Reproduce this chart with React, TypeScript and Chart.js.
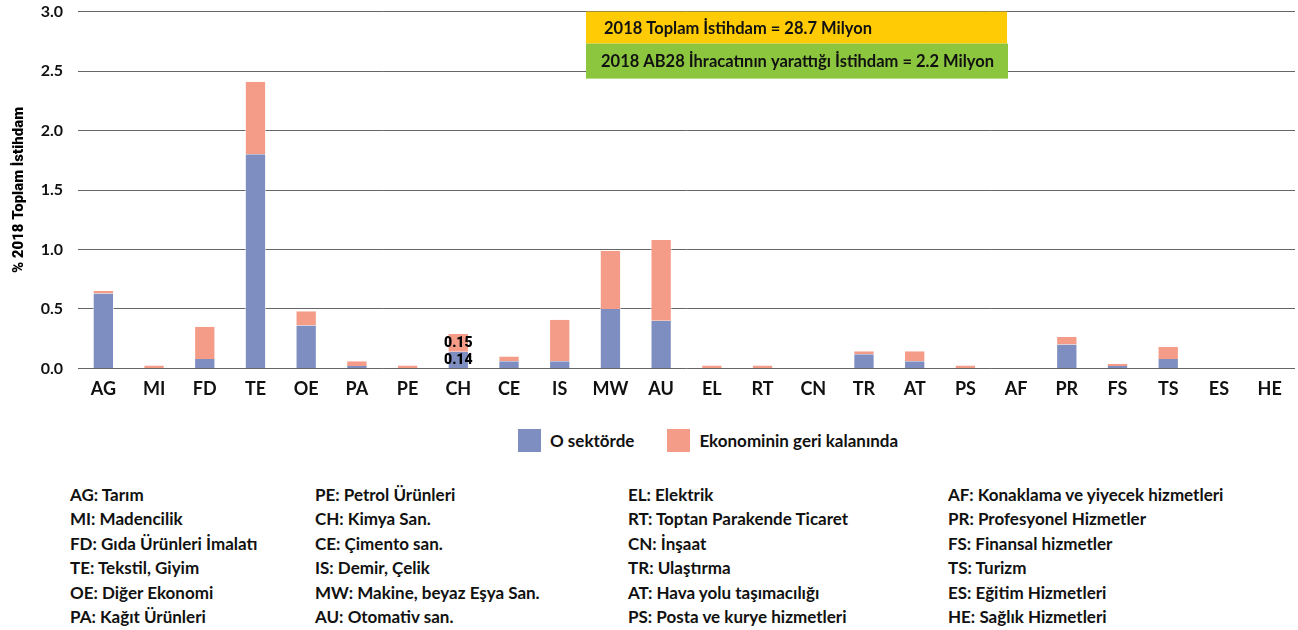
import React, { useEffect, useRef } from "react";
import { Chart, registerables } from "chart.js";

Chart.register(...registerables);

const categories = ["AG","MI","FD","TE","OE","PA","PE","CH","CE","IS","MW","AU","EL","RT","CN","TR","AT","PS","AF","PR","FS","TS","ES","HE"];
const inSector = [0.63,0,0.08,1.8,0.36,0.02,0,0.14,0.06,0.06,0.5,0.4,0,0,0,0.12,0.06,0,0,0.2,0.02,0.08,0,0];
const restOfEconomy = [0.02,0.025,0.27,0.61,0.12,0.04,0.025,0.15,0.04,0.35,0.49,0.68,0.025,0.025,0,0.025,0.085,0.025,0,0.065,0.02,0.1,0,0];
const seriesNames = ["O sektörde", "Ekonominin geri kalanında"];
const seriesColors = ["#7F8EC1", "#F59C88"];
const yTitle = "% 2018 Toplam İstihdam";
const noteTotal = "2018 Toplam İstihdam = 28.7 Milyon";
const noteExport = "2018 AB28 İhracatının yarattığı İstihdam = 2.2 Milyon";
const labelledCategory = "CH";

const defCol1 = ["AG: Tarım","MI: Madencilik","FD: Gıda Ürünleri İmalatı","TE: Tekstil, Giyim","OE: Diğer Ekonomi","PA: Kağıt Ürünleri"];
const defCol2 = ["PE: Petrol Ürünleri","CH: Kimya San.","CE: Çimento san.","IS: Demir, Çelik","MW: Makine, beyaz Eşya San.","AU: Otomativ san."];
const defCol3 = ["EL: Elektrik","RT: Toptan Parakende Ticaret","CN: İnşaat","TR: Ulaştırma","AT: Hava yolu taşımacılığı","PS: Posta ve kurye hizmetleri"];
const defCol4 = ["AF: Konaklama ve yiyecek hizmetleri","PR: Profesyonel Hizmetler","FS: Finansal hizmetler","TS: Turizm","ES: Eğitim Hizmetleri","HE: Sağlık Hizmetleri"];

const FONT = "Lato, 'Open Sans', sans-serif";
const HEAVY = "Roboto, Lato, sans-serif";

const overlayPlugin = {
  id: "overlay",
  afterDatasetsDraw(chart: any) {
    const ctx = chart.ctx;
    const y = chart.scales.y;
    const top = y.getPixelForValue(3);
    ctx.save();
    ctx.fillStyle = "#FFCB05";
    ctx.fillRect(586, top, 421, 32);
    ctx.fillStyle = "#8CC63F";
    ctx.fillRect(586, top + 32, 422, 35);
    ctx.fillStyle = "#111";
    ctx.font = `bold 16.5px ${FONT}`;
    ctx.textBaseline = "middle";
    ctx.textAlign = "left";
    ctx.fillText(noteTotal, 604, top + 17);
    ctx.fillText(noteExport, 601, top + 50);
    const idx = categories.indexOf(labelledCategory);
    ctx.font = `900 14px ${HEAVY}`;
    ctx.textAlign = "center";
    ctx.fillStyle = "#000";
    [0, 1].forEach((di) => {
      const el = chart.getDatasetMeta(di).data[idx];
      const val = chart.data.datasets[di].data[idx];
      const cy = (el.y + el.base) / 2;
      ctx.fillText(Number(val).toFixed(2), el.x, cy + 1);
    });
    ctx.restore();
  },
};

export default function App() {
  const ref = useRef<HTMLCanvasElement>(null);
  useEffect(() => {
    const chart = new Chart(ref.current!, {
      type: "bar",
      data: {
        labels: categories,
        datasets: [
          { label: seriesNames[0], data: inSector, backgroundColor: seriesColors[0], borderColor: "rgba(255,255,255,0.6)", borderWidth: { left: 1, right: 1, top: 0, bottom: 0 }, borderSkipped: false as any },
          { label: seriesNames[1], data: restOfEconomy, backgroundColor: seriesColors[1], borderColor: "rgba(255,255,255,0.6)", borderWidth: { left: 1, right: 1, top: 0, bottom: 0 }, borderSkipped: false as any },
        ],
      },
      options: {
        animation: false,
        responsive: false,
        maintainAspectRatio: false,
        layout: { padding: { top: 1, right: 3, bottom: 2, left: 0 } },
        datasets: { bar: { categoryPercentage: 1, barPercentage: 0.42 } },
        plugins: { legend: { display: false }, tooltip: { enabled: false } },
        scales: {
          x: {
            stacked: true,
            grid: { display: false, drawTicks: false },
            border: { display: false },
            ticks: { color: "#111", font: { family: FONT, size: 18, weight: "bold" }, padding: 10, maxRotation: 0, autoSkip: false },
          },
          y: {
            stacked: true,
            min: 0,
            max: 3,
            afterFit: (s: any) => { s.width = 78; },
            grid: { color: "#666", lineWidth: 1, drawTicks: false },
            border: { display: false },
            ticks: { stepSize: 0.5, color: "#111", padding: 15, font: { family: FONT, size: 16, weight: "bold" }, callback: (v: any) => Number(v).toFixed(1) },
            title: { display: true, text: yTitle, color: "#000", font: { family: HEAVY, size: 15, weight: "900" }, padding: { top: 10, bottom: 0 } },
          },
        },
      },
      plugins: [overlayPlugin],
    });
    return () => chart.destroy();
  }, []);

  const textStyle: React.CSSProperties = { fontFamily: FONT, fontWeight: 700, fontSize: 17, color: "#111", lineHeight: "24.4px", whiteSpace: "nowrap" };
  const cols = [defCol1, defCol2, defCol3, defCol4];
  const colX = [70, 315, 628, 948];

  return (
    <div style={{ position: "absolute", left: 0, top: 0, width: 1298, height: 630, background: "#fff", overflow: "hidden" }}>
      <canvas ref={ref} width={1298} height={425} style={{ position: "absolute", left: 0, top: -13, width: 1298, height: 425 }} />
      <div style={{ position: "absolute", left: 518, top: 429, height: 23, display: "flex", alignItems: "center", fontFamily: FONT, fontWeight: 700, fontSize: 17, color: "#111" }}>
        <span style={{ display: "inline-block", width: 23, height: 23, background: seriesColors[0], marginRight: 9 }} />
        <span style={{ marginRight: 33 }}>{seriesNames[0]}</span>
        <span style={{ display: "inline-block", width: 23, height: 23, background: seriesColors[1], marginRight: 9 }} />
        <span>{seriesNames[1]}</span>
      </div>
      {cols.map((col, ci) => (
        <div key={ci} style={{ position: "absolute", left: colX[ci], top: 483, ...textStyle }}>
          {col.map((t, i) => (<div key={i}>{t}</div>))}
        </div>
      ))}
    </div>
  );
}
